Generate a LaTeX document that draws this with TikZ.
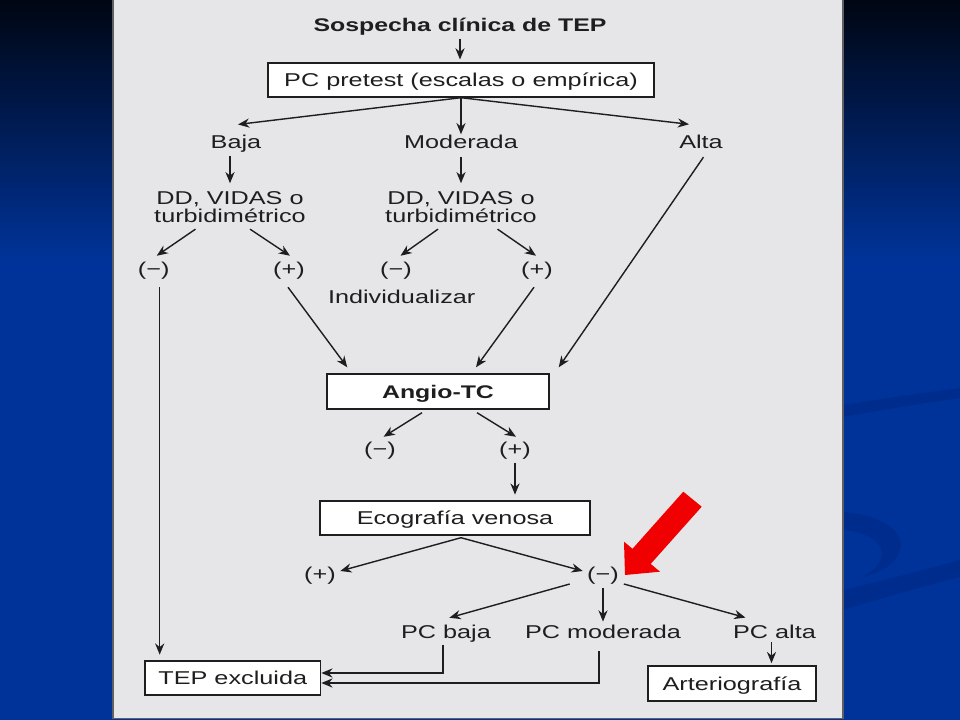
\documentclass[tikz,border=0pt]{standalone}
\usepackage{fontspec}
\setmainfont{Liberation Sans}[FakeStretch=1.36]
\usetikzlibrary{arrows.meta}

\definecolor{slidetop}{RGB}{0,6,18}
\definecolor{slideblue}{RGB}{0,51,153}
\definecolor{swoosh}{RGB}{0,45,141}
\definecolor{panel}{RGB}{230,230,232}
\definecolor{panelline}{RGB}{95,95,100}
\definecolor{ink}{RGB}{30,30,30}
\definecolor{pointer}{RGB}{240,0,0}

\begin{document}
\begin{tikzpicture}[x=0.025cm,y=-0.025cm,font=\fontsize{13.2}{13.2}\selectfont]

        \useasboundingbox (0,0) rectangle (960,720);
        \shade[top color=slidetop,bottom color=slideblue] (0,0) rectangle (960,260);
        \fill[slideblue] (0,260) rectangle (960,720);
        \fill[swoosh] (843,405) .. controls (900,396) .. (960,388) -- (960,398) .. controls (900,407) .. (843,417) -- cycle;
        \fill[swoosh] (843,512) .. controls (918,518) and (915,566) .. (862,577) .. controls (893,562) and (888,534) .. (843,530) -- cycle;
        \fill[swoosh] (843,590) .. controls (900,576) .. (960,560) -- (960,577) .. controls (900,593) .. (843,610) -- cycle;
        \filldraw[fill=panel,draw=panelline,line width=0.8pt] (113,-2) rectangle (843,718.5);

        \begin{scope}[every node/.style={draw=ink,fill=white,text=ink,line width=1pt,inner sep=0pt,text depth=0pt,minimum height=0.85cm}]
          \node[minimum width=9.65cm] (1) at (461,80) {PC pretest (escalas o empírica)};
          \node[minimum width=5.55cm,minimum height=0.875cm,font=\fontsize{13}{13}\bfseries] (12) at (438,391.5) {Angio-TC};
          \node[minimum width=6.75cm] (15) at (455,518) {Ecografía venosa};
          \node[minimum width=4.39cm] (21) at (232.75,678) {TEP excluida};
          \node[minimum width=4.2cm,minimum height=0.875cm] (22) at (732,683.5) {Arteriografía};
        \end{scope}

        \begin{scope}[every node/.style={text=ink,inner sep=2pt}]
          \node[font=\fontsize{13}{13}\bfseries] (0) at (460,27) {Sospecha clínica de TEP};
          \node (2)  at (236,144.2) {Baja};
          \node (3)  at (461,142.2) {Moderada};
          \node (4)  at (701,142.2) {Alta};
          \node[align=center] (5) at (230,207.2) {DD, VIDAS o\\turbidimétrico};
          \node[align=center] (6) at (461,207.2) {DD, VIDAS o\\turbidimétrico};
          \node (7)  at (153.7,271) {(−)};
          \node (8)  at (289,271) {(+)};
          \node (9)  at (396,271) {(−)};
          \node (10) at (537,271) {(+)};
          \node (11) at (401.7,297) {Individualizar};
          \node (13) at (380,451) {(−)};
          \node (14) at (515,451) {(+)};
          \node (16) at (320,576) {(+)};
          \node (17) at (603,576) {(−)};
          \node (18) at (446,633.5) {PC baja};
          \node (19) at (603,631.5) {PC moderada};
          \node (20) at (774.5,631.5) {PC alta};
        \end{scope}

        \begin{scope}[every edge/.style={draw=ink,line width=1pt,-{Stealth[length=8pt,width=6.5pt]}}]
          \path (0.south) edge[shorten >=2pt] (0.south |- 1.north);
          \path (1.south) edge ([shift={(2,-8)}]2.north);
          \path (1.south) edge ([shift={(0,2)}]3.north);
          \path (1.south) edge ([shift={(-12,-8)}]4.north);
          \path (2.south -| 5.north) edge ([shift={(0,-5)}]5.north);
          \path ([shift={(0,5)}]3.south) edge ([shift={(0,-5)}]6.north);
          \path ([shift={(-34.5,3)}]5.south) edge ([shift={(3,-3.5)}]7.north);
          \path ([shift={(20,3)}]5.south) edge ([shift={(1,-3.5)}]8.north);
          \path ([shift={(-23,3)}]6.south) edge ([shift={(4.5,-3.5)}]9.north);
          \path ([shift={(36.5,3)}]6.south) edge ([shift={(-1,-3.5)}]10.north);
          \path ([shift={(6,4.5)}]7.south) edge[shorten >=4pt] ([shift={(6,0)}]7.south |- 21.north);
          \path ([shift={(-1,4.5)}]8.south) edge ([shift={(21,-6)}]12.north west);
          \path ([shift={(-3,4.5)}]10.south) edge ([shift={(38,-6)}]12.north);
          \path ([shift={(2.5,5)}]4.south) edge ([shift={(9,-6)}]12.north east);
          \path ([shift={(-16,3)}]12.south) edge ([shift={(3.6,-2.5)}]13.north);
          \path ([shift={(39,3)}]12.south) edge ([shift={(1,-2.5)}]14.north);
          \path (14.south) edge[shorten >=4pt] (14.south |- 15.north);
          \path ([shift={(6,2)}]15.south) edge ([shift={(1.4,-5)}]16.east);
          \path ([shift={(6,2)}]15.south) edge ([shift={(-1.4,-5)}]17.west);
          \path ([shift={(-14.4,8)}]17.west) edge ([shift={(3.4,-4)}]18.north);
          \path (17.south) edge (19.north);
          \path ([shift={(2,8)}]17.east) edge ([shift={(-29,-4)}]20.north);
          \path ([shift={(-3,1)}]20.south) edge[shorten >=1.5pt] ([shift={(-3,0)}]20.south |- 22.north);
          \path ([shift={(-3,0)}]18.south) edge[to path={|- (\tikztotarget)}] ([shift={(0,-5)}]21.east);
          \path ([shift={(-4,10)}]19.south) edge[to path={|- (\tikztotarget)}] ([shift={(0,5)}]21.east);
        \end{scope}

        \fill[pointer] (683.3,491.7) -- (701.7,506.7) -- (650.7,563.9) -- (660,571.7) -- (625,575) -- (624,541.7) -- (632.5,548.8) -- cycle;

      \end{tikzpicture}
\end{document}
